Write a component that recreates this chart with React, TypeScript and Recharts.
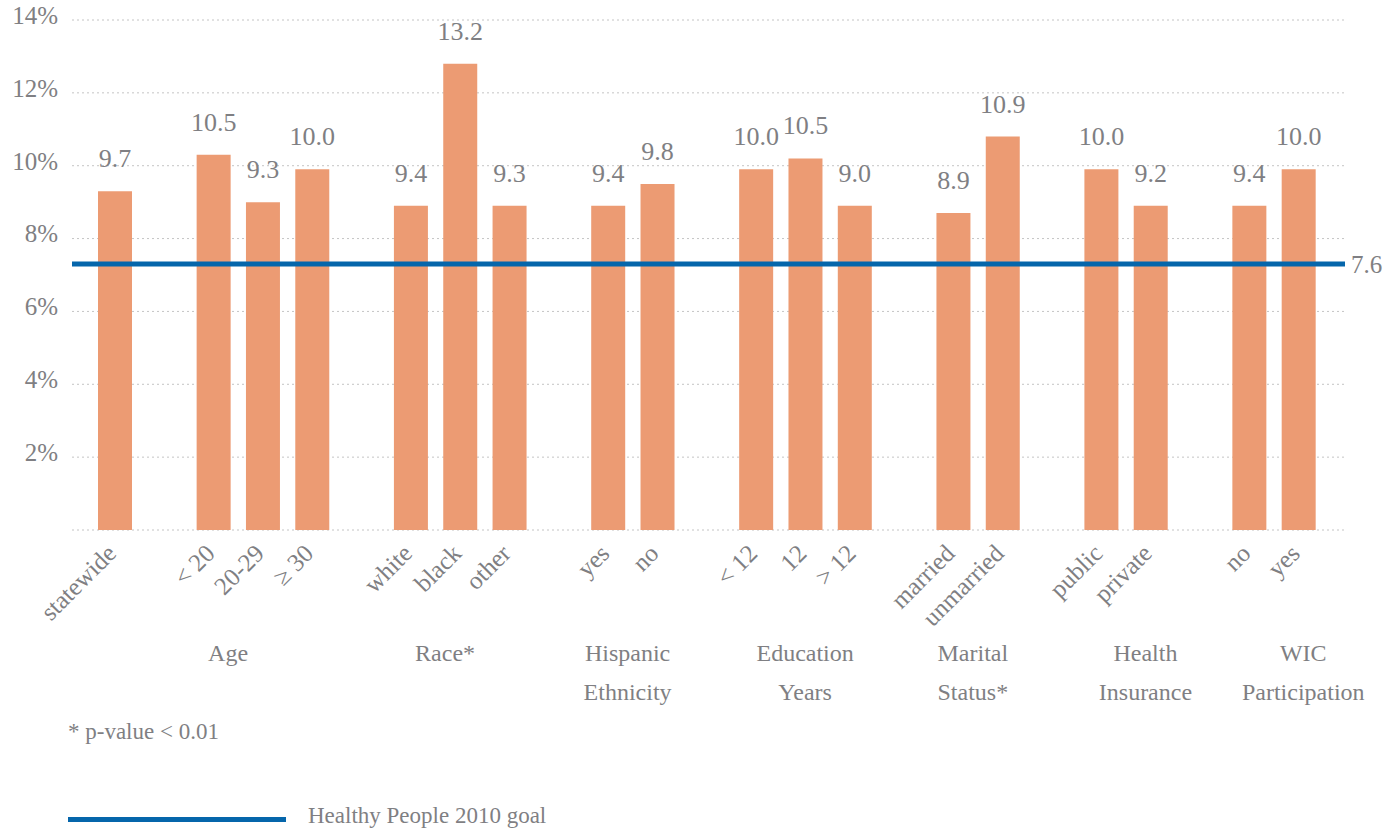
import React from "react";
import {
  ComposedChart,
  Bar,
  XAxis,
  YAxis,
  CartesianGrid,
  ReferenceLine,
  LabelList,
} from "recharts";

// one slot per bar, empty slots separate the groups
const categories = [
  "statewide", "",
  "< 20", "20-29", "≥ 30", "",
  "white", "black", "other", "",
  "yes", "no", "",
  "< 12", "12", "> 12", "",
  "married", "unmarried", "",
  "public", "private", "",
  "no", "yes",
];

// bar heights as drawn (percent)
const barValues = [
  9.3, null,
  10.3, 9.0, 9.9, null,
  8.9, 12.8, 8.9, null,
  8.9, 9.5, null,
  9.9, 10.2, 8.9, null,
  8.7, 10.8, null,
  9.9, 8.9, null,
  8.9, 9.9,
];

// values printed above the bars
const printedValues = [
  "9.7", "",
  "10.5", "9.3", "10.0", "",
  "9.4", "13.2", "9.3", "",
  "9.4", "9.8", "",
  "10.0", "10.5", "9.0", "",
  "8.9", "10.9", "",
  "10.0", "9.2", "",
  "9.4", "10.0",
];

const groupNames = [
  ["Age"],
  ["Race*"],
  ["Hispanic", "Ethnicity"],
  ["Education", "Years"],
  ["Marital", "Status*"],
  ["Health", "Insurance"],
  ["WIC", "Participation"],
];
const groupSlots = [2.3, 6.7, 10.4, 14.0, 17.4, 20.9, 24.1];

const yTicks = [0, 2, 4, 6, 8, 10, 12, 14];
const goalValue = 7.3;
const goalLabel = "7.6";

const BAR = "#EC9B73";
const GOAL = "#0566AB";
const TEXT = "#7F7F83";
const FONT = "Liberation Serif, Times New Roman, serif";

const data = categories.map((name, i) => ({
  slot: i,
  name,
  value: barValues[i],
  label: printedValues[i],
}));

function SlotTick(props: any) {
  const { x, y, payload } = props;
  const text = categories[payload.value];
  if (!text) return null;
  const ax = x + 3;
  const ay = y + 25;
  return (
    <text
      x={ax}
      y={ay}
      transform={`rotate(-45, ${ax}, ${ay})`}
      textAnchor="end"
      fill={TEXT}
      fontSize={25}
      style={{ fontFamily: FONT }}
    >
      {text}
    </text>
  );
}

function GroupTick(props: any) {
  const { x, y, index } = props;
  const lines = groupNames[index] || [];
  return (
    <text x={x} y={y} textAnchor="middle" fill={TEXT} fontSize={24} style={{ fontFamily: FONT }}>
      {lines.map((l, i) => (
        <tspan key={i} x={x} dy={i === 0 ? 21 : 39}>
          {l}
        </tspan>
      ))}
    </text>
  );
}

function ValueLabel(props: any) {
  const { x, y, width, value } = props;
  if (!value) return null;
  return (
    <text
      x={x + width / 2}
      y={y - 24}
      textAnchor="middle"
      fill={TEXT}
      fontSize={26}
      style={{ fontFamily: FONT }}
    >
      {value}
    </text>
  );
}

export default function App() {
  return (
    <div
      style={{
        position: "absolute",
        left: 0,
        top: 0,
        width: 1395,
        height: 828,
        background: "#fff",
        fontFamily: FONT,
      }}
    >
      <ComposedChart
        width={1395}
        height={828}
        data={data}
        margin={{ top: 20, right: 50, left: 8, bottom: 108 }}
        style={{ fontFamily: FONT }}
      >
        <CartesianGrid vertical={false} stroke="#c4c4c4" strokeDasharray="2 3" />
        <XAxis
          dataKey="slot"
          type="category"
          interval={0}
          axisLine={false}
          tickLine={false}
          tickSize={0}
          tickMargin={0}
          height={110}
          padding={{ left: 18, right: 22 }}
          tick={<SlotTick />}
        />
        <XAxis
          xAxisId="group"
          dataKey="slot"
          type="number"
          domain={[-0.5, 24.5]}
          ticks={groupSlots}
          interval={0}
          axisLine={false}
          tickLine={false}
          tickSize={0}
          tickMargin={0}
          height={80}
          padding={{ left: 18, right: 22 }}
          tick={<GroupTick />}
        />
        <YAxis
          domain={[0, 14]}
          ticks={yTicks}
          width={64}
          axisLine={false}
          tickLine={false}
          tickSize={0}
          tickMargin={14}
          tickFormatter={(v: number) => (v === 0 ? "" : `${v}%`)}
          tick={{ fill: TEXT, fontSize: 25, style: { fontFamily: FONT }, dy: -5 }}
        />
        <Bar dataKey="value" fill={BAR} barSize={34} isAnimationActive={false}>
          <LabelList dataKey="label" content={<ValueLabel />} />
        </Bar>
        <ReferenceLine
          y={goalValue}
          stroke={GOAL}
          strokeWidth={5}
          label={{
            value: goalLabel,
            position: "right",
            offset: 6,
            fill: TEXT,
            fontSize: 25,
            style: { fontFamily: FONT },
          }}
        />
      </ComposedChart>
      <div
        style={{
          position: "absolute",
          left: 68,
          top: 719,
          color: TEXT,
          fontSize: 23,
        }}
      >
        * p-value &lt; 0.01
      </div>
      <div
        style={{
          position: "absolute",
          left: 68,
          top: 803,
          display: "flex",
          alignItems: "center",
          color: TEXT,
          fontSize: 23,
        }}
      >
        <span style={{ display: "inline-block", width: 218, height: 5, background: GOAL, marginRight: 22, marginTop: 6 }} />
        <span>Healthy People 2010 goal</span>
      </div>
    </div>
  );
}
